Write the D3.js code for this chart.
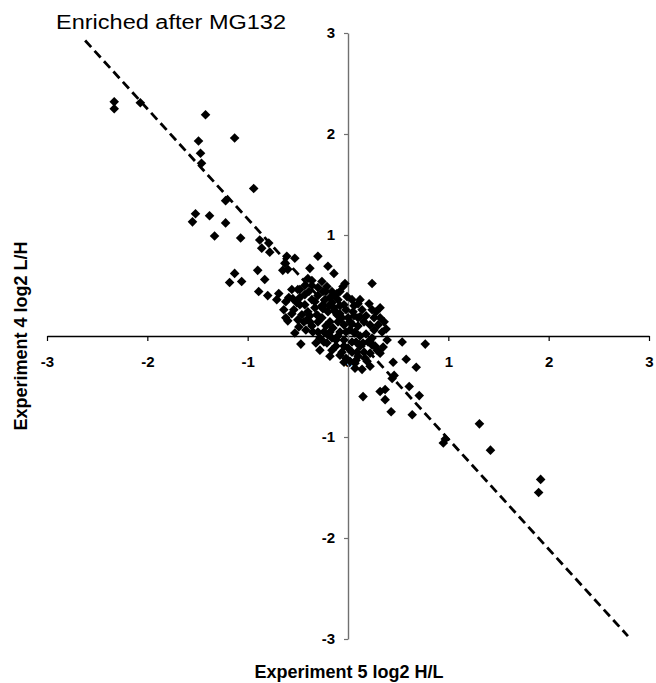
<!DOCTYPE html>
<html>
<head>
<meta charset="utf-8">
<script src="https://cdn.jsdelivr.net/npm/d3@7"></script>
<style>
  body { margin: 0; background: #fff; }
  svg { display: block; font-family: "Liberation Sans", Arial, sans-serif; }
</style>
</head>
<body>
<div id="chart"></div>
<script>
// log2 ratios: [Experiment 5 H/L, Experiment 4 L/H]
const proteins = [
  [-2.33,2.32],[-2.33,2.25],[-2.07,2.31],[-1.42,2.19],[-1.49,1.93],[-1.13,1.96],[-1.47,1.81],[-1.46,1.71],
  [-0.94,1.46],[-1.22,1.34],[-1.52,1.21],[-1.55,1.13],[-1.38,1.19],[-1.22,1.12],[-1.33,0.99],[-1.07,0.97],
  [-0.88,0.95],[-0.79,0.92],[-0.86,0.87],[-0.78,0.83],[-0.61,0.79],[-0.53,0.77],[-0.63,0.72],[-0.60,0.66],
  [-0.65,0.65],[-0.30,0.79],[-0.20,0.69],[-0.14,0.62],[-0.38,0.67],[-0.40,0.57],[-0.03,0.52],[-1.13,0.62],
  [-1.18,0.53],[-1.06,0.54],[-0.90,0.65],[-0.83,0.56],[-0.89,0.44],[-0.80,0.40],[-0.69,0.42],[-0.71,0.36],
  [-0.64,0.26],[-0.55,0.37],[-0.50,0.46],[-0.43,0.41],[-0.60,0.15],[-0.53,0.03],[-0.47,-0.08],[-0.32,-0.07],
  [-0.21,-0.07],[-0.26,0.54],[-0.21,0.49],[-0.16,0.44],[-0.25,0.44],[0.24,0.52],[0.21,0.32],[0.32,0.28],
  [0.10,0.32],[0.05,0.24],[0.12,0.19],[0.02,0.14],[0.07,0.04],[0.15,-0.07],[0.22,-0.17],[0.29,-0.14],
  [-0.08,-0.19],[0.02,-0.25],[0.19,-0.25],[-0.38,0.14],[-0.31,0.21],[-0.25,0.27],[-0.18,0.14],[-0.11,0.21],
  [-0.08,0.04],[-0.35,0.04],[-0.28,-0.02],[-0.20,0.01],[0.34,0.04],[0.39,-0.04],[0.35,-0.11],[0.32,-0.17],
  [0.17,-0.22],[0.07,-0.32],[0.54,-0.06],[0.77,-0.08],[0.45,-0.26],[0.58,-0.23],[0.68,-0.31],[0.44,-0.42],
  [0.46,-0.39],[0.61,-0.50],[0.15,-0.60],[0.32,-0.55],[0.37,-0.53],[0.37,-0.63],[0.71,-0.59],[0.43,-0.75],
  [0.64,-0.78],[1.31,-0.87],[0.95,-1.06],[0.97,-1.02],[1.42,-1.13],[1.92,-1.42],[1.90,-1.55],
  [-0.49,0.09],[-0.41,0.16],[-0.36,0.55],[-0.11,0.42],[-0.05,0.49],[-0.01,0.39],[0.38,0.07],[0.27,-0.10],
  [0.22,-0.05],[0.09,-0.16],[0.07,-0.27],
  [-0.43,0.31],[-0.36,0.36],[-0.30,0.40],[-0.23,0.36],[-0.16,0.33],[-0.10,0.36],[-0.04,0.31],[-0.40,0.24],
  [-0.33,0.28],[-0.26,0.18],[-0.20,0.24],[-0.14,0.28],[-0.08,0.22],[-0.02,0.26],[0.04,0.36],[-0.36,0.10],
  [-0.30,0.14],[-0.22,0.10],[-0.15,0.08],[-0.10,0.14],[-0.04,0.11],[0.02,0.06],[0.10,0.10],[0.16,0.14],
  [0.22,0.11],[-0.30,0.04],[-0.24,-0.06],[-0.16,-0.02],[-0.12,-0.10],[-0.04,-0.04],[0.00,-0.12],[0.08,-0.06],
  [0.12,0.00],[0.18,0.02],[0.24,-0.02],[-0.06,-0.16],[-0.02,-0.22],[0.10,-0.20],[-0.46,0.21],[-0.48,0.31],
  [-0.54,0.26],[0.14,0.26],[0.18,0.20],[0.26,0.18],[0.28,0.24],[-0.28,-0.14],[-0.16,-0.14],[0.04,-0.06],
  [-0.08,0.44],[-0.18,0.38],[-0.30,0.48],[-0.43,0.50],[-0.51,0.33],[-0.59,0.38],[-0.56,0.22],[-0.50,0.16],
  [0.24,-0.09],[0.30,0.11],[0.36,0.14],[0.22,-0.30],[0.14,-0.33],[-0.04,-0.26],[-0.18,-0.20],
  [-0.48,0.38],[-0.39,0.44],[-0.33,0.34],[-0.26,0.30],[-0.19,0.30],[-0.12,0.24],[-0.06,0.18],[0.00,0.18],
  [0.06,0.20],[0.10,0.18],[0.04,0.12],[-0.02,0.04],[-0.10,0.00],[-0.18,0.04],[-0.24,0.04],[-0.30,0.20],
  [-0.38,0.20],[-0.44,0.14],[-0.42,0.06],[-0.12,-0.04],[-0.04,-0.10],[0.04,-0.16],[0.12,-0.10],[0.16,-0.16],
  [0.08,-0.24],[0.20,-0.06],[0.26,0.06],[0.32,0.18],[0.24,0.26],[0.12,0.36],[0.06,0.30],[-0.08,0.30],
  [-0.22,0.44],[-0.14,0.40],[-0.36,0.50],[-0.48,0.46],[-0.56,0.46],[-0.62,0.34],[-0.62,0.18]
];

const xTicks = [-3, -2, -1, 0, 1, 2, 3];
const yTicks = [-3, -2, -1, 1, 2, 3];

// linear trend line (dashed)
const trendSlope = -1.09;
const trendIntercept = 0.07;
const trendRange = [-2.62, 2.79];

const width = 656, height = 683;

const svg = d3.select("#chart").append("svg")
    .attr("width", width)
    .attr("height", height);

const x = d3.scaleLinear().domain([-3, 3]).range([47, 649]);
const y = d3.scaleLinear().domain([-3, 3]).range([639, 33]);

const fmt = d => String(d);   // plain hyphen minus, like the original

// x axis through y = 0
const xAxis = svg.append("g")
    .attr("transform", "translate(0," + y(0) + ")")
    .call(d3.axisBottom(x).tickValues(xTicks).tickSize(5).tickSizeOuter(0).tickPadding(15).tickFormat(fmt));
xAxis.select(".domain").attr("stroke", "#000").attr("stroke-width", 1.4);
xAxis.selectAll(".tick line").attr("stroke", "#000").attr("stroke-width", 1.2);

// y axis through x = 0
const yAxis = svg.append("g")
    .attr("transform", "translate(" + x(0) + ",0)")
    .call(d3.axisLeft(y).tickValues(yTicks).tickSize(4).tickSizeOuter(0).tickPadding(9).tickFormat(fmt));
yAxis.select(".domain").attr("stroke", "#707070").attr("stroke-width", 1.4);
yAxis.selectAll(".tick line").attr("stroke", "#707070").attr("stroke-width", 1.2);

svg.selectAll(".tick text")
    .attr("fill", "#000")
    .style("font-family", "'Liberation Sans', Arial, sans-serif")
    .style("font-weight", "700")
    .style("font-size", "15px");

// points
const diamond = d3.symbol().type(d3.symbolSquare).size(46);
svg.append("g").selectAll("path")
    .data(proteins)
    .join("path")
    .attr("d", diamond)
    .attr("transform", d => "translate(" + x(d[0]) + "," + y(d[1]) + ") rotate(45)")
    .attr("fill", "#000");

// trend line
const trend = trendRange.map(v => [v, trendSlope * v + trendIntercept]);
svg.append("path")
    .datum(trend)
    .attr("fill", "none")
    .attr("stroke", "#000")
    .attr("stroke-width", 2.8)
    .attr("stroke-dasharray", "9,5")
    .attr("d", d3.line().x(d => x(d[0])).y(d => y(d[1])));

// labels
svg.append("text")
    .attr("x", 56)
    .attr("y", 29)
    .attr("textLength", 230)
    .attr("lengthAdjust", "spacingAndGlyphs")
    .style("font-size", "20px")
    .text("Enriched after MG132");

svg.append("text")
    .attr("x", 349)
    .attr("y", 678)
    .attr("text-anchor", "middle")
    .style("font-weight", "700")
    .style("font-size", "18px")
    .text("Experiment 5 log2 H/L");

svg.append("text")
    .attr("transform", "translate(27,336) rotate(-90)")
    .attr("text-anchor", "middle")
    .style("font-weight", "700")
    .style("font-size", "18px")
    .text("Experiment 4 log2 L/H");
</script>
</body>
</html>
